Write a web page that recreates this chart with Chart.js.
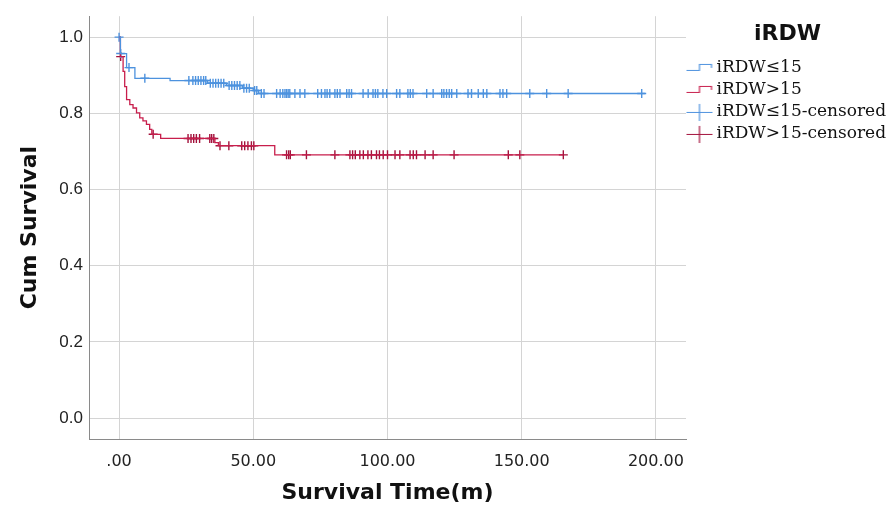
<!DOCTYPE html>
<html>
<head>
<meta charset="utf-8">
<script src="https://cdn.jsdelivr.net/npm/chart.js@4.4.1/dist/chart.umd.min.js"></script>
<style>
  html, body { margin: 0; padding: 0; background: #fff; }
  #wrap { width: 889px; height: 510px; }
</style>
</head>
<body>
<div id="wrap"><canvas id="km" width="889" height="510"></canvas></div>
<script>
// Kaplan-Meier steps
const lowTimes  = [0, 0.5, 2.8, 5.9, 19, 33, 40, 46, 50, 52, 196];
const lowSurv   = [1.0, 0.957, 0.920, 0.892, 0.886, 0.879, 0.873, 0.866, 0.860, 0.852, 0.852];
const highTimes = [0, 0.5, 1.5, 2.1, 2.8, 4.0, 5.2, 6.5, 7.7, 8.9, 10.2, 11.4, 12.2, 15.5, 35.7, 37, 58, 165.5];
const highSurv  = [1.0, 0.949, 0.91, 0.87, 0.836, 0.823, 0.814, 0.801, 0.788, 0.780, 0.771, 0.758, 0.745, 0.734, 0.723, 0.715, 0.691, 0.691];

// censored marks
const lowCensT = [0, 0.6, 3.7, 9.6,
  26, 27.5, 28.5, 29.5, 30.5, 31.5, 32.3,
  34, 35, 36, 37, 38, 39,
  41, 42, 43, 44, 45,
  46.5, 47.5, 48.5,
  50.5, 51.3,
  53, 54, 58.7, 60, 61, 61.8, 62.4, 63, 63.6, 65.5, 67.4, 69.2, 74, 75.4, 76.7, 77.5, 78.5,
  80.4, 81.3, 82.3, 84.8, 85.7, 86.6, 90.9, 92.8, 94.6, 95.5, 96.4, 98.3, 99.7, 103.4, 104.6,
  107.6, 108.5, 109.5, 114.6, 117, 120.2, 121, 122, 123, 123.9, 125.8, 130, 131.3, 133.8,
  135.7, 137, 141.9, 143, 144.4, 153, 159.3, 167.3, 194.7];
const lowCensS = [1.0, 0.957, 0.920, 0.892,
  0.886, 0.886, 0.886, 0.886, 0.886, 0.886, 0.886,
  0.879, 0.879, 0.879, 0.879, 0.879, 0.879,
  0.873, 0.873, 0.873, 0.873, 0.873,
  0.866, 0.866, 0.866,
  0.860, 0.860,
  0.852, 0.852, 0.852, 0.852, 0.852, 0.852, 0.852, 0.852, 0.852, 0.852, 0.852, 0.852, 0.852, 0.852, 0.852, 0.852, 0.852,
  0.852, 0.852, 0.852, 0.852, 0.852, 0.852, 0.852, 0.852, 0.852, 0.852, 0.852, 0.852, 0.852, 0.852, 0.852,
  0.852, 0.852, 0.852, 0.852, 0.852, 0.852, 0.852, 0.852, 0.852, 0.852, 0.852, 0.852, 0.852, 0.852,
  0.852, 0.852, 0.852, 0.852, 0.852, 0.852, 0.852, 0.852, 0.852];
const highCensT = [0.6, 12.7,
  25.7, 26.8, 27.8, 28.8, 30, 33.8, 34.5, 35.3,
  37.6, 40.9, 45.7, 46.8, 48, 49.3, 50.2,
  62.4, 63.2, 63.8, 69.8, 80.4, 86, 87, 88, 89.7, 91, 92.7, 94, 95.9, 97, 98.4, 100,
  102.8, 104.6, 108.4, 109.6, 110.8, 114, 117, 124.8, 145, 149.3, 165.5];
const highCensS = [0.949, 0.745,
  0.734, 0.734, 0.734, 0.734, 0.734, 0.734, 0.734, 0.734,
  0.715, 0.715, 0.715, 0.715, 0.715, 0.715, 0.715,
  0.691, 0.691, 0.691, 0.691, 0.691, 0.691, 0.691, 0.691, 0.691, 0.691, 0.691, 0.691, 0.691, 0.691, 0.691, 0.691, 0.691,
  0.691, 0.691, 0.691, 0.691, 0.691, 0.691, 0.691, 0.691, 0.691, 0.691, 0.691];

const xTicks = [0, 50, 100, 150, 200];
const yTicks = [0, 0.2, 0.4, 0.6, 0.8, 1.0];
const groupNames = ['iRDW\u226415', 'iRDW>15', 'iRDW\u226415-censored', 'iRDW>15-censored'];

const blue = '#4d92de';
const red = '#c81e4c';
const redMark = '#a3123c';

function pts(xs, ys) {
	return xs.map((x, i) => ({x: x, y: ys[i]}));
}

// small legend icons
function stepIcon(color) {
	var c = document.createElement('canvas');
	c.width = 28; c.height = 10;
	var g = c.getContext('2d');
	g.strokeStyle = color;
	g.lineWidth = 1.2;
	g.beginPath();
	g.moveTo(1, 7.5); g.lineTo(14, 7.5); g.lineTo(14, 1.5); g.lineTo(26, 1.5); g.lineTo(26, 5);
	g.stroke();
	return c;
}
function crossIcon(color) {
	var c = document.createElement('canvas');
	c.width = 28; c.height = 18;
	var g = c.getContext('2d');
	g.strokeStyle = color;
	g.lineWidth = 1.2;
	g.beginPath();
	g.moveTo(1, 9.5); g.lineTo(27, 9.5);
	g.moveTo(14, 1); g.lineTo(14, 18);
	g.stroke();
	return c;
}
const icons = [stepIcon(blue), stepIcon(red), crossIcon(blue), crossIcon(redMark)];

new Chart('km', {
	type: 'scatter',
	data: {
		datasets: [
			// 'before' in Chart.js draws the horizontal run first, then the drop
			{label: groupNames[0], data: pts(lowTimes, lowSurv), showLine: true, stepped: 'before',
				borderColor: blue, borderWidth: 1.3, pointRadius: 0, fill: false},
			{label: groupNames[1], data: pts(highTimes, highSurv), showLine: true, stepped: 'before',
				borderColor: red, borderWidth: 1.3, pointRadius: 0, fill: false},
			{label: groupNames[2], data: pts(lowCensT, lowCensS), showLine: false,
				pointStyle: 'cross', pointRadius: 4.5, borderColor: blue, borderWidth: 1.4},
			{label: groupNames[3], data: pts(highCensT, highCensS), showLine: false,
				pointStyle: 'cross', pointRadius: 4.5, borderColor: redMark, borderWidth: 1.4},
		],
	},
	options: {
		responsive: false,
		animation: false,
		events: [],
		layout: {padding: {top: 13, right: 0, bottom: 0, left: 0}},
		scales: {
			x: {
				type: 'linear',
				min: -11.2,
				max: 211.2,
				afterBuildTicks: s => { s.ticks = xTicks.map(v => ({value: v})); },
				afterFit: s => { s.height = 71; },
				grid: {color: '#d4d4d4', lineWidth: 1, drawTicks: false},
				border: {color: '#8a8a8a', width: 1},
				ticks: {
					padding: 13,
					color: '#222',
					font: {family: 'DejaVu Sans', size: 16},
					callback: v => v === 0 ? '.00' : v.toFixed(2),
				},
				title: {
					display: true,
					text: 'Survival Time(m)',
					color: '#111',
					font: {family: 'DejaVu Sans', size: 22, weight: 'bold'},
					padding: {top: 0, bottom: 4},
				},
			},
			y: {
				min: -0.055,
				max: 1.055,
				afterBuildTicks: s => { s.ticks = yTicks.map(v => ({value: v})); },
				afterFit: s => { s.width = 89; },
				grid: {color: '#d4d4d4', lineWidth: 1, drawTicks: false},
				border: {color: '#8a8a8a', width: 1},
				ticks: {
					padding: 6,
					color: '#222',
					font: {family: 'Liberation Sans', size: 17},
					callback: v => v.toFixed(1),
				},
				title: {
					display: true,
					text: 'Cum Survival',
					color: '#111',
					font: {family: 'DejaVu Sans', size: 22, weight: 'bold'},
					padding: {top: 17, bottom: 0},
				},
			},
		},
		plugins: {
			tooltip: {enabled: false},
			legend: {
				position: 'right',
				align: 'start',
				maxWidth: 203,
				title: {
					display: true,
					text: 'iRDW',
					color: '#111',
					font: {family: 'DejaVu Sans', size: 22, weight: 'bold'},
					padding: {top: 10, bottom: 5},
				},
				labels: {
					usePointStyle: true,
					pointStyleWidth: 17,
					padding: 5,
					color: '#111',
					font: {family: 'DejaVu Serif', size: 17},
					generateLabels: chart => groupNames.map((name, i) => ({
						text: name,
						pointStyle: icons[i],
						fillStyle: 'transparent',
						strokeStyle: 'transparent',
						lineWidth: 0,
						hidden: false,
						datasetIndex: i,
					})),
				},
			},
		},
	},
});
</script>
</body>
</html>
